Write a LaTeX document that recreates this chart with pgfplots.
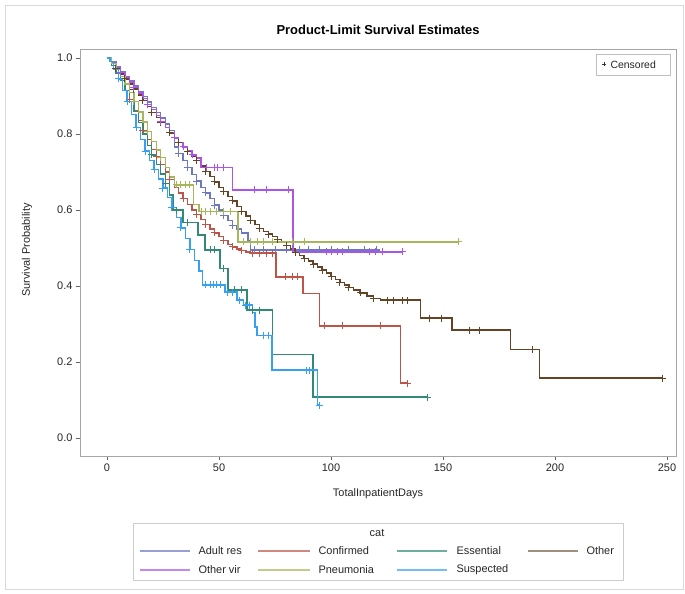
\documentclass[border=0pt]{standalone}
\usepackage{fontspec}
\setmainfont{Liberation Sans}
\usepackage{pgfplots}
\pgfplotsset{compat=1.18}

\definecolor{cAdult}{RGB}{108,120,192}
\definecolor{cConf}{RGB}{188,84,72}
\definecolor{cEss}{RGB}{50,138,118}
\definecolor{cOther}{RGB}{100,68,36}
\definecolor{cOvir}{RGB}{172,84,230}
\definecolor{cPneu}{RGB}{166,182,92}
\definecolor{cSusp}{RGB}{56,160,240}

\begin{document}
\begin{tikzpicture}
\path (0bp,0bp) rectangle (685bp,594bp);
\draw[black!15] (5bp,5bp) rectangle (683bp,589bp);

\begin{axis}[
    at={(80bp,138bp)}, anchor=south west,
    scale only axis, width=596bp, height=407bp,
    xmin=-12.05, xmax=254, ymin=-0.047, ymax=1.0237,
    xtick={0,50,100,150,200,250},
    ytick={0,0.2,0.4,0.6,0.8,1},
    yticklabel style={/pgf/number format/.cd, fixed, fixed zerofill, precision=1},
    /pgf/number format/assume math mode=true,
    tick label style={font=\fontsize{11}{13}\selectfont, black!85},
    tick align=outside, xtick pos=bottom, ytick pos=left,
    major tick length=4bp,
    axis line style={black!35}, tick style={black!60},
    clip=false,
    every axis plot/.append style={line width=1.35bp},
    mk/.style={only marks, mark=+, mark size=3.5bp, mark options={line width=1bp}},
]

% ---- Adult res
\addplot[const plot, cAdult] coordinates {
 (0,1.0) (2,0.99) (4,0.978) (6,0.965) (8,0.952) (10,0.94) (12,0.926) (14,0.912)
 (16,0.898) (18,0.884) (20,0.87) (22,0.856) (24,0.842) (26,0.826) (28,0.81)
 (30,0.766) (32,0.748) (34,0.73) (36,0.712) (38,0.694) (40,0.676) (42,0.66)
 (44,0.645) (46,0.63) (48,0.613) (50,0.60) (52,0.585) (54,0.572) (56,0.56)
 (58,0.55) (60,0.54) (63,0.52) (64,0.495) (122,0.495)};
\addplot[mk, cAdult] coordinates {
 (32,0.748) (36,0.712) (40,0.676) (44,0.645) (48,0.613) (52,0.585) (56,0.56)
 (66,0.495) (70,0.495) (75,0.495) (80,0.495) (86,0.495) (90,0.495) (95,0.495)
 (100,0.495) (108,0.495) (115,0.495) (120.5,0.495)};

% ---- Confirmed
\addplot[const plot, cConf] coordinates {
 (0,1.0) (2,0.98) (4,0.96) (6,0.94) (8,0.915) (10,0.89) (12,0.862) (14,0.836)
 (16,0.81) (18,0.785) (20,0.76) (22,0.74) (24,0.72) (26,0.70) (28,0.68) (30,0.66)
 (32,0.645) (34,0.63) (36,0.615) (38,0.60) (40,0.588) (42,0.575) (44,0.562)
 (46,0.55) (48,0.54) (50,0.53) (52,0.52) (54,0.51) (56,0.503) (58,0.498)
 (60,0.493) (62,0.49) (64,0.487) (75.5,0.424) (87.5,0.38) (95,0.295)
 (131,0.145) (134,0.145)};
\addplot[mk, cConf] coordinates {
 (10,0.89) (16,0.81) (22,0.74) (28,0.68) (34,0.63) (40,0.588) (44,0.562)
 (48,0.54) (52,0.52) (56,0.503) (60,0.493) (65,0.487) (68,0.487) (71,0.487)
 (74,0.487) (79.5,0.424) (83,0.424) (85,0.424) (97,0.295) (105,0.295)
 (122,0.295) (134,0.145)};

% ---- Essential
\addplot[const plot, cEss] coordinates {
 (0,1.0) (2,0.98) (4,0.96) (6,0.94) (8,0.915) (10,0.89) (12,0.86) (14,0.83)
 (16,0.80) (18,0.77) (20,0.745) (22,0.72) (24,0.695) (26,0.67) (28,0.64)
 (29.5,0.60) (34,0.568) (40.6,0.534) (43.7,0.495) (50.4,0.447) (54,0.39)
 (62.5,0.337) (74,0.22) (92,0.108) (143,0.108)};
\addplot[mk, cEss] coordinates {
 (20,0.745) (26,0.67) (31,0.60) (36,0.568) (46,0.495) (48,0.495) (52,0.447)
 (57,0.39) (60,0.39) (65,0.337) (68,0.337) (143,0.108)};

% ---- Other
\addplot[const plot, cOther] coordinates {
 (0,1.0) (2,0.985) (4,0.972) (6,0.958) (8,0.945) (10,0.932) (12,0.918)
 (14,0.903) (16,0.888) (18,0.872) (20,0.856) (22,0.843) (24,0.830) (26,0.817)
 (28,0.803) (30,0.790) (32,0.778) (34,0.766) (36,0.754) (38,0.742) (40,0.730)
 (42,0.716) (44,0.702) (46,0.688) (48,0.674) (50,0.660) (52,0.648) (54,0.636)
 (56,0.624) (58,0.610) (60,0.596) (62,0.584) (64,0.572) (66,0.562) (68,0.552)
 (70,0.544) (72,0.537) (74,0.530) (76,0.522) (78,0.514) (80,0.506) (82,0.498)
 (84,0.489) (86,0.481) (88,0.473) (90,0.466) (92,0.458) (94,0.450) (96,0.442)
 (98,0.434) (100,0.426) (102,0.418) (104,0.410) (106,0.403) (108,0.396)
 (110,0.390) (113,0.382) (116,0.374) (119,0.367) (122,0.363) (140,0.316)
 (154,0.284) (180,0.234) (193,0.158) (248,0.158)};
\addplot[mk, cOther] coordinates {
 (4,0.972) (8,0.945) (12,0.918) (16,0.888) (20,0.856) (24,0.830) (28,0.803)
 (32,0.778) (36,0.754) (40,0.730) (44,0.702) (48,0.674) (52,0.648) (56,0.624)
 (60,0.596) (64,0.572) (68,0.552) (72,0.537) (76,0.522) (80,0.506) (84,0.489)
 (88,0.473) (92,0.458) (96,0.442) (100,0.426) (104,0.410) (108,0.396)
 (113,0.382) (119,0.367) (125,0.363) (128,0.363) (132,0.363) (134,0.363)
 (144,0.316) (149.5,0.316) (162,0.284) (166.5,0.284) (190,0.234) (248,0.158)};

% ---- Other vir
\addplot[const plot, cOvir] coordinates {
 (0,1.0) (2,0.988) (4,0.975) (6,0.962) (8,0.950) (10,0.937) (12,0.922)
 (14,0.908) (16,0.893) (18,0.878) (20,0.864) (22,0.848) (24,0.833) (26,0.818)
 (28,0.804) (30,0.790) (32,0.778) (34,0.766) (36,0.755) (38,0.745) (40,0.737)
 (42,0.712) (56,0.653) (83,0.490) (132,0.490)};
\addplot[mk, cOvir] coordinates {
 (6,0.962) (12,0.922) (18,0.878) (24,0.833) (30,0.790) (34,0.766) (38,0.745)
 (44.6,0.712) (48,0.712) (49.5,0.712) (52,0.712) (66,0.653) (71,0.653)
 (81,0.653) (98,0.49) (100,0.49) (103,0.49) (105,0.49) (117,0.49) (120,0.49)
 (123,0.49) (132,0.49)};

% ---- Pneumonia
\addplot[const plot, cPneu] coordinates {
 (0,1.0) (2,0.985) (4,0.97) (6,0.952) (8,0.932) (10,0.910) (12,0.885)
 (14,0.858) (16,0.832) (18,0.806) (20,0.780) (22,0.758) (24,0.738) (26,0.712)
 (28,0.687) (30,0.666) (38.5,0.615) (41,0.597) (58.5,0.516) (157,0.516)};
\addplot[mk, cPneu] coordinates {
 (12,0.885) (18,0.806) (24,0.738) (31,0.666) (33,0.666) (35,0.666) (37,0.666)
 (42,0.597) (44,0.597) (46,0.597) (49,0.597) (52,0.597) (55,0.597)
 (61,0.516) (64,0.516) (67,0.516) (70,0.516) (74,0.516) (83,0.516) (88,0.516)
 (157,0.516)};

% ---- Suspected
\addplot[const plot, cSusp] coordinates {
 (0,1.0) (1.3,0.99) (3,0.97) (5,0.945) (7,0.915) (9,0.885) (11,0.852)
 (13,0.818) (15,0.785) (17,0.755) (19,0.73) (21,0.706) (23,0.682) (25,0.658)
 (27,0.633) (29,0.607) (31,0.58) (33,0.553) (35,0.525) (37,0.497) (39,0.468)
 (41,0.44) (42.5,0.403) (52.7,0.384) (58,0.363) (61,0.35) (65,0.33) (66,0.292)
 (67,0.27) (73.6,0.179) (94,0.087) (95,0.087)};
\addplot[mk, cSusp] coordinates {
 (5,0.945) (9,0.885) (13,0.818) (17,0.755) (21,0.706) (25,0.658) (29,0.607)
 (33,0.553) (37,0.497) (44,0.403) (46,0.403) (47.5,0.403) (49,0.403)
 (50.5,0.403) (54,0.384) (56,0.384) (59,0.363) (62,0.35) (63.5,0.35)
 (70,0.27) (72,0.27) (89,0.179) (90.6,0.179) (95,0.087)};
\end{axis}

% titles and labels
\node[font=\bfseries\fontsize{13}{15}\selectfont] at (378bp,564bp) {Product-Limit Survival Estimates};
\node[font=\fontsize{11}{13}\selectfont, black!85] at (378bp,100bp) {TotalInpatientDays};
\node[font=\fontsize{11}{13}\selectfont, black!85, rotate=90] at (27bp,344bp) {Survival Probability};

% censored key
\draw[black!25, fill=white] (596bp,519bp) rectangle (670bp,540bp);
\draw[black!80, line width=0.6bp] (602bp,529.5bp) -- ++(4bp,0) (604bp,527.5bp) -- ++(0,4bp);
\node[font=\fontsize{10.5}{12}\selectfont, black!85, anchor=west] at (607bp,529.5bp) {Censored};

% group legend
\draw[black!20] (133bp,14bp) rectangle (623bp,71bp);
\node[font=\fontsize{11}{13}\selectfont, black!85] at (377bp,61bp) {cat};
\begin{scope}[line width=1.3bp]
\draw[cAdult!70] (140bp,43bp) -- (190bp,43bp);
\draw[cConf!70]  (258bp,43bp) -- (310bp,43bp);
\draw[cEss!70]   (397bp,43bp) -- (447bp,43bp);
\draw[cOther!60] (528bp,43bp) -- (578bp,43bp);
\draw[cOvir!70]  (140bp,24bp) -- (190bp,24bp);
\draw[cPneu!70]  (258bp,24bp) -- (310bp,24bp);
\draw[cSusp!70]  (397bp,24bp) -- (447bp,24bp);
\end{scope}
\begin{scope}[every node/.style={font=\fontsize{11}{13}\selectfont, black!85, anchor=west}]
\node at (195bp,43bp) {Adult res};
\node at (315bp,43bp) {Confirmed};
\node at (453bp,43bp) {Essential};
\node at (583bp,43bp) {Other};
\node at (195bp,24bp) {Other vir};
\node at (315bp,24bp) {Pneumonia};
\node at (453bp,24bp) {Suspected};
\end{scope}
\end{tikzpicture}
\end{document}
